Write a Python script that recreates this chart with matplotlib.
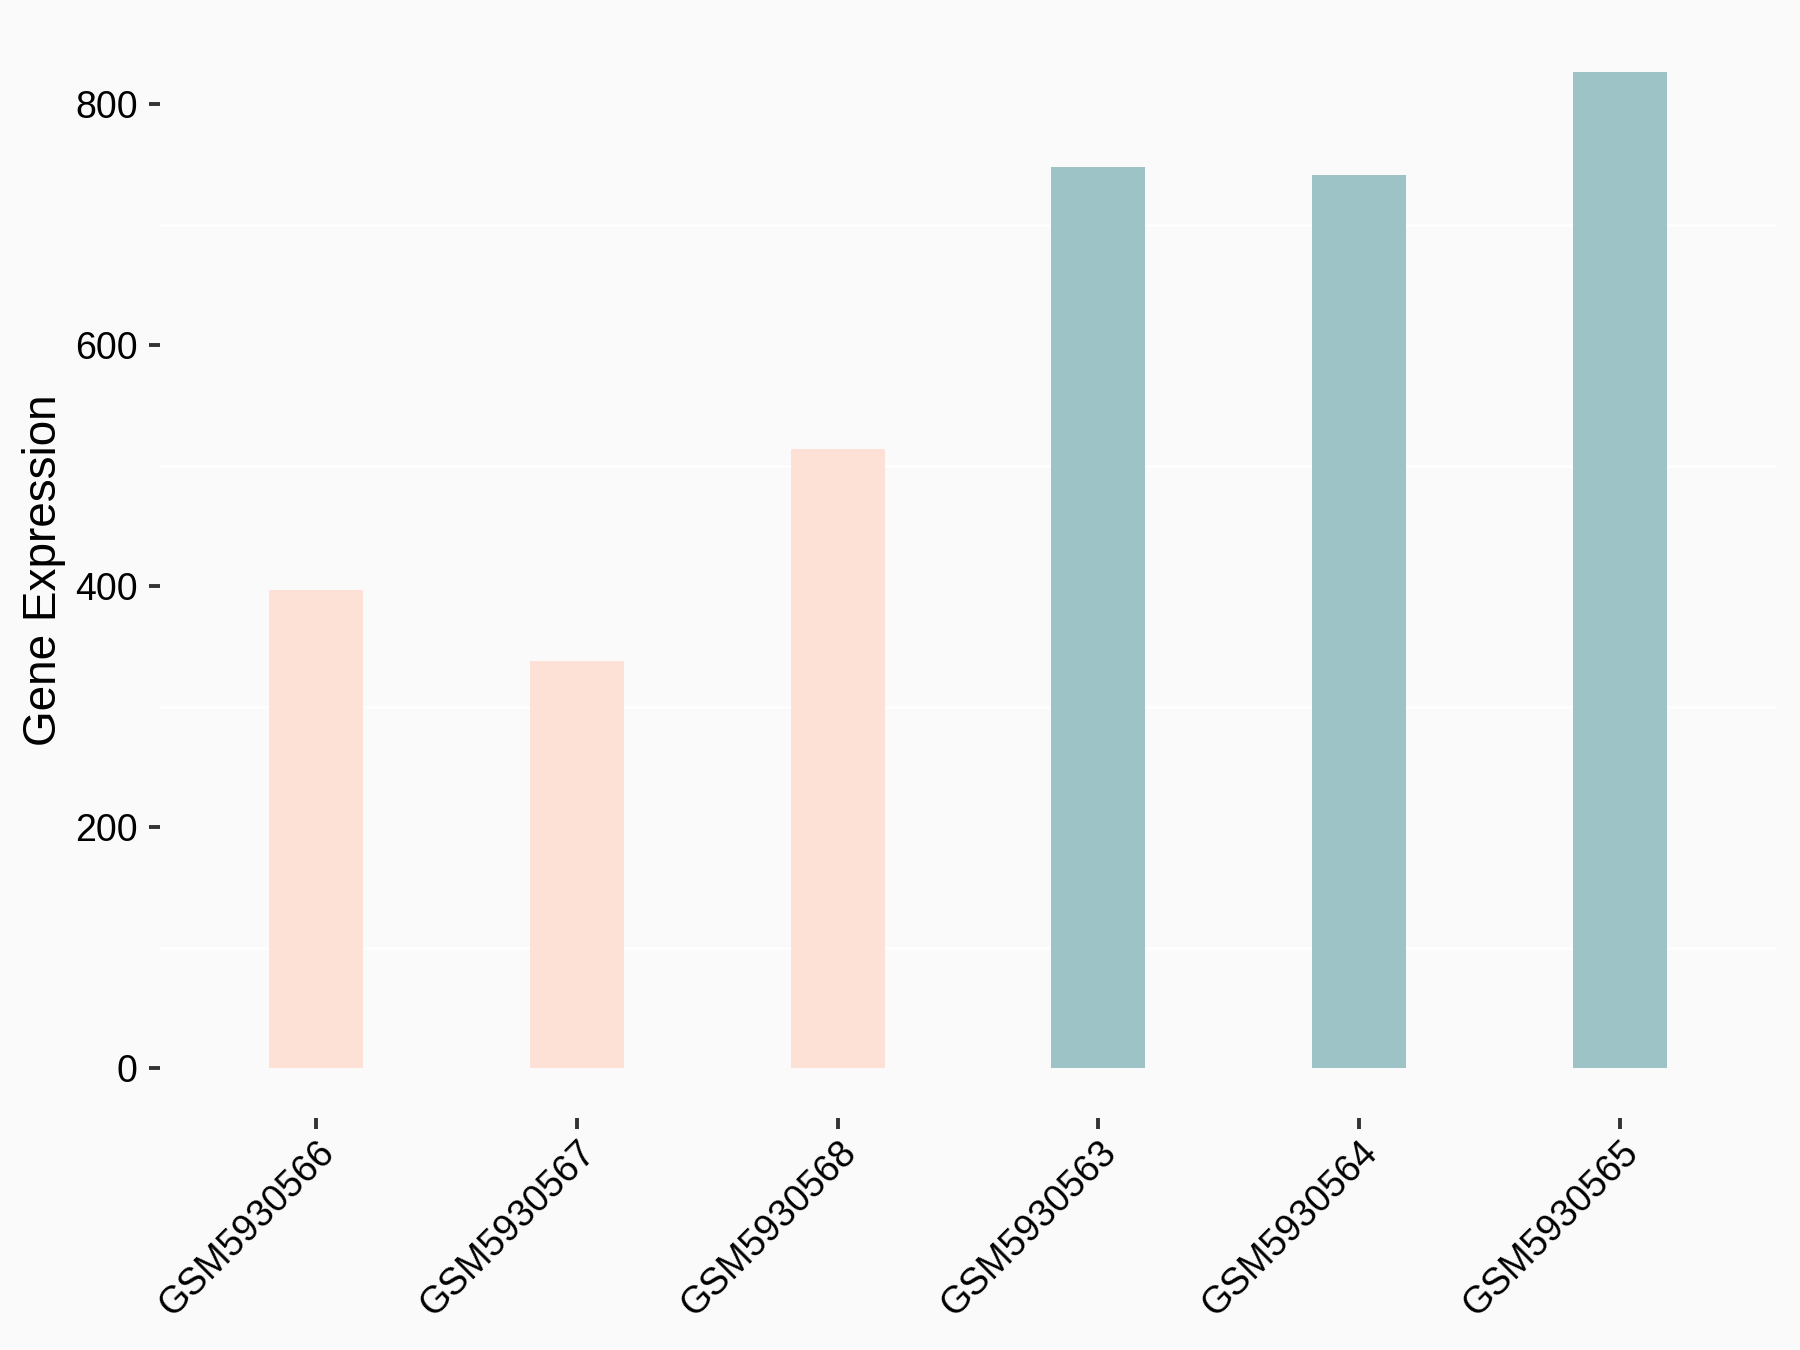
import numpy as np
import matplotlib
matplotlib.use("Agg")
import matplotlib.pyplot as plt

# Données
echantillons = ["GSM5930566", "GSM5930567", "GSM5930568",
                "GSM5930563", "GSM5930564", "GSM5930565"]
expression = [397, 338, 514, 748, 741, 827]
groupes = ["A", "A", "A", "B", "B", "B"]
couleurs_groupes = {"A": "#FDE0D6", "B": "#9DC3C6"}

plt.rcParams['font.family'] = ['Liberation Sans', 'DejaVu Sans']

fond = "#FAFAFA"
fig = plt.figure(figsize=(9, 6.75), dpi=200, facecolor=fond)
ax = fig.add_axes([0.0889, 0.1719, 0.8978, 0.8119], facecolor=fond)

x = np.arange(len(echantillons))
couleurs = [couleurs_groupes[g] for g in groupes]
ax.bar(x, expression, width=0.36, color=couleurs, zorder=2)

# Limites façon ggplot (expansion)
ymax = max(expression)
ax.set_ylim(-0.05 * ymax, 1.05 * ymax)
ax.set_xlim(-0.6, len(echantillons) - 0.4)

# Grille mineure blanche seulement
ax.set_yticks([0, 200, 400, 600, 800])
ax.set_yticks([100, 300, 500, 700], minor=True)
ax.grid(which='minor', axis='y', color='white', linewidth=1.0, zorder=0)
ax.grid(which='major', visible=False)
ax.tick_params(axis='y', which='minor', length=0)

for s in ax.spines.values():
    s.set_visible(False)

ax.set_xticks(x)
ax.set_xticklabels(echantillons, rotation=45, ha='right', va='top',
                   rotation_mode='anchor')
ax.tick_params(axis='both', which='major', length=4, width=1.4,
               color='#333333', labelsize=13.5, labelcolor='black', pad=4)
ax.tick_params(axis='x', which='major', pad=2)

ax.set_ylabel('Gene Expression', fontsize=16.5, labelpad=3.3)

fig.savefig('out.png', dpi=200, facecolor=fond)
